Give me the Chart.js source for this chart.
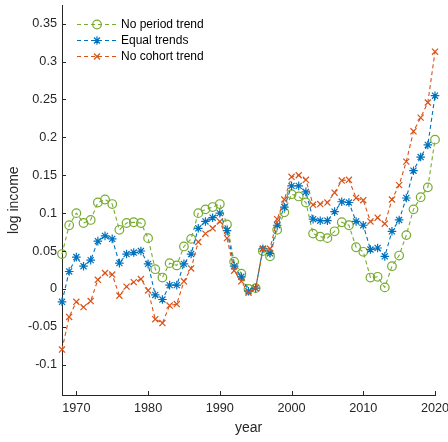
<!DOCTYPE html>
<html>
<head>
<meta charset="utf-8">
<script src="https://cdn.jsdelivr.net/npm/chart.js@4"></script>
<style>
html,body{margin:0;padding:0;background:#fff;}
canvas{display:block;}
</style>
</head>
<body>
<canvas id="c" width="448" height="442"></canvas>
<script>
const years = [1968,1969,1970,1971,1972,1973,1974,1975,1976,1977,1978,1979,1980,1981,1982,1983,1984,1985,1986,1987,1988,1989,1990,1991,1992,1993,1994,1995,1996,1997,1998,1999,2000,2001,2002,2003,2004,2005,2006,2007,2008,2009,2010,2011,2012,2013,2014,2015,2016,2017,2018,2019,2020];
const noPeriodTrend = [0.046,0.084,0.100,0.087,0.091,0.114,0.118,0.112,0.078,0.087,0.088,0.087,0.067,0.026,0.015,0.034,0.031,0.056,0.066,0.100,0.105,0.108,0.112,0.085,0.036,0.020,0.000,0.001,0.050,0.043,0.078,0.101,0.125,0.122,0.114,0.073,0.069,0.067,0.076,0.088,0.084,0.055,0.049,0.015,0.016,0.002,0.030,0.044,0.071,0.105,0.121,0.134,0.197];
const equalTrends = [-0.017,0.023,0.042,0.030,0.038,0.063,0.070,0.066,0.034,0.046,0.048,0.050,0.033,-0.008,-0.014,0.005,0.005,0.033,0.046,0.080,0.089,0.094,0.100,0.077,0.030,0.016,-0.003,0.001,0.053,0.047,0.084,0.108,0.136,0.136,0.128,0.092,0.090,0.090,0.102,0.115,0.114,0.089,0.084,0.052,0.054,0.043,0.076,0.091,0.120,0.156,0.174,0.190,0.255];
const noCohortTrend = [-0.080,-0.037,-0.017,-0.024,-0.016,0.012,0.021,0.019,-0.009,0.003,0.009,0.013,-0.002,-0.040,-0.045,-0.022,-0.020,0.010,0.027,0.062,0.073,0.080,0.089,0.067,0.024,0.010,-0.005,0.001,0.053,0.053,0.092,0.118,0.148,0.150,0.144,0.111,0.112,0.114,0.127,0.143,0.144,0.120,0.117,0.089,0.094,0.086,0.118,0.137,0.168,0.208,0.226,0.246,0.313];
const seriesLabels = ["No period trend","Equal trends","No cohort trend"];
const xTicks = [1970,1980,1990,2000,2010,2020];
const yTicks = [-0.1,-0.05,0,0.05,0.1,0.15,0.2,0.25,0.3,0.35];

const AX = '#262626';
const FONT = "'Liberation Sans', Arial, sans-serif";
const colors = ['#77AC30','#0072BD','#D95319'];
const styles = ['circle','star','crossRot'];

function toXY(vals){ return years.map((y,i)=>({x:y,y:vals[i]})); }

const datasets = [noPeriodTrend, equalTrends, noCohortTrend].map((vals,i)=>({
  label: seriesLabels[i],
  data: toXY(vals),
  borderColor: colors[i],
  backgroundColor: 'rgba(0,0,0,0)',
  pointBorderColor: colors[i],
  pointBackgroundColor: 'rgba(0,0,0,0)',
  pointStyle: styles[i],
  pointRadius: 4.3,
  pointBorderWidth: 1.2,
  borderWidth: 1.1,
  borderDash: [4,3],
  tension: 0,
  clip: false,
  order: 2 - i
}));

new Chart(document.getElementById('c'), {
  type: 'line',
  data: { datasets },
  options: {
    responsive: false,
    animation: false,
    devicePixelRatio: 1,
    layout: { padding: { top: 4, right: 13, left: 0, bottom: 0 } },
    plugins: { legend: { display: false }, tooltip: { enabled: false } },
    scales: {
      x: {
        type: 'linear', min: 1968, max: 2020,
        afterBuildTicks: s => { s.ticks = xTicks.map(v=>({value:v})); },
        afterFit: s => { s.height = 47; s.paddingLeft = 0; s.paddingRight = 0; },
        grid: { display: false, drawTicks: false },
        border: { display: true, color: AX, width: 1 },
        ticks: { color: AX, font: { family: FONT, size: 12.7 }, padding: 6, maxRotation: 0, autoSkip: false, callback: v => String(v) },
        title: { display: true, text: 'year', color: AX, font: { family: FONT, size: 14 }, padding: { top: 0, bottom: 5 } }
      },
      y: {
        type: 'linear', min: -0.14, max: 0.374,
        afterBuildTicks: s => { s.ticks = yTicks.map(v=>({value:v})); },
        afterFit: s => { s.width = 62; s.paddingTop = 0; s.paddingBottom = 0; },
        grid: { display: false, drawTicks: false },
        border: { display: true, color: AX, width: 1 },
        ticks: { color: AX, font: { family: FONT, size: 12.7 }, padding: 5, autoSkip: false, callback: v => String(v) },
        title: { display: true, text: 'log income', color: AX, font: { family: FONT, size: 14 }, padding: { top: 6, bottom: 0 } }
      }
    }
  },
  plugins: [{
    id: 'legendAndTicks',
    afterDatasetsDraw(chart){
      const ctx = chart.ctx;
      const ds = chart.data.datasets;
      ctx.save();
      const xs = chart.scales.x, ys = chart.scales.y, ca = chart.chartArea;
      ctx.strokeStyle = AX; ctx.lineWidth = 1;
      ctx.beginPath();
      xTicks.forEach(v=>{ const p = Math.round(xs.getPixelForValue(v))+0.5; ctx.moveTo(p, ca.bottom); ctx.lineTo(p, ca.bottom-4); });
      yTicks.forEach(v=>{ const p = Math.round(ys.getPixelForValue(v))+0.5; ctx.moveTo(ca.left, p); ctx.lineTo(ca.left+4, p); });
      ctx.stroke();
      ds.forEach((d,i)=>{
        const yy = 24.5 + i*16;
        ctx.save();
        ctx.strokeStyle = d.borderColor; ctx.lineWidth = 1.1; ctx.setLineDash([4,3]);
        ctx.beginPath(); ctx.moveTo(77, yy); ctx.lineTo(118, yy); ctx.stroke();
        ctx.setLineDash([]);
        ctx.lineWidth = 1.2;
        ctx.fillStyle = 'rgba(0,0,0,0)';
        Chart.helpers.drawPoint(ctx, {pointStyle: d.pointStyle, radius: 4.3, borderWidth: 1.2, rotation: 0}, 97, yy);
        ctx.fillStyle = '#000';
        ctx.font = "12px " + FONT;
        ctx.textBaseline = 'middle'; ctx.textAlign = 'left';
        ctx.fillText(d.label, 121, yy + 0.5);
        ctx.restore();
      });
      ctx.restore();
    }
  }]
});
</script>
</body>
</html>
